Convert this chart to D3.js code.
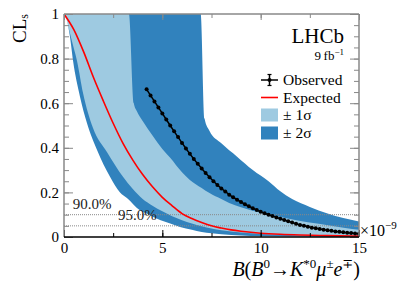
<!DOCTYPE html>
<html><head><meta charset="utf-8">
<script src="https://cdn.jsdelivr.net/npm/d3@7"></script>
<style>
html,body{margin:0;padding:0;background:#fff;}
svg{display:block;}
svg text{font-family:"Liberation Serif","DejaVu Serif",serif;}
</style></head>
<body><svg id="c" width="399" height="286"></svg>
<script>
// ---------- data ----------
const xTickValues = [0, 5, 10, 15];
const xTickLabels = ["0", "5", "10", "15"];
const yTickValues = [0, 0.2, 0.4, 0.6, 0.8, 1];
const yTickLabels = ["0", "0.2", "0.4", "0.6", "0.8", "1"];
const clLevels = [0.10, 0.05];
const clLabels = ["90.0%", "95.0%"];
const clLabelX = [0.45, 2.75];

const obsX = [4.2,4.4,4.6,4.8,5.0,5.2,5.4,5.6,5.8,6.0,6.2,6.4,6.6,6.8,7.0,7.2,7.4,7.6,7.8,8.0,
  8.2,8.4,8.6,8.8,9.0,9.2,9.4,9.6,9.8,10.0,10.2,10.4,10.6,10.8,11.0,11.2,11.4,11.6,11.8,12.0,
  12.2,12.4,12.6,12.8,13.0,13.2,13.4,13.6,13.8,14.0,14.2,14.4,14.6,14.8,15.0];
const obsY = [.662,.635,.608,.581,.554,.527,.500,.474,.448,.422,.397,.373,.350,.328,.307,.287,.268,.250,.233,.218,
  .204,.190,.178,.167,.157,.147,.138,.129,.121,.113,.106,.100,.094,.088,.082,.076,.071,.065,.059,.054,
  .050,.046,.042,.039,.036,.033,.030,.028,.025,.023,.021,.019,.018,.016,.015];

const expX = [0,0.5,1,1.5,2,2.5,3,3.5,4,4.5,5,5.5,6,6.5,7,7.5,8,8.5,9,9.5,10,11,12,13,14,15];
const expY = [1,.93,.83,.715,.61,.51,.42,.345,.28,.225,.178,.14,.105,.083,.065,.05,.04,.032,.026,.021,.017,.012,.009,.007,.005,.004];

// band edges
const up2X = [0,6.95,7.15,7.4,8,8.8,9.6,10.4,11,11.6,12.5,13.4,14.2,15];
const up2Y = [1,1,.53,.475,.42,.36,.30,.25,.205,.17,.135,.105,.085,.07];
const up1X = [0,3.3,3.55,3.7,4.0,4.5,5.0,5.4,6.0,6.4,7.0,7.4,8.0,8.4,9.0,9.5,10.5,11.5,12.4,13.5,14.3,15];
const up1Y = [1,1,.6,.565,.52,.455,.395,.355,.29,.256,.22,.197,.17,.152,.133,.12,.099,.081,.066,.052,.04,.032];
const lo1X = [0,0.2,0.4,0.66,0.97,1.47,2.19,3.0,3.5,4.0,4.5,5.0,5.5,6.0,6.5,7.0,7.5,8,9,10,11,12,13,15];
const lo1Y = [1,.95,.88,.79,.645,.49,.38,.27,.215,.17,.14,.115,.093,.075,.06,.048,.038,.03,.02,.014,.01,.007,.005,.003];
const lo2X = [0,0.15,0.3,0.46,0.81,1.17,1.68,2.34,2.85,3.2,3.86,4.2,4.88,5.4,5.9,6.5,7,8,9,10,12,15];
const lo2Y = [1,.97,.9,.79,.63,.51,.39,.27,.2,.175,.12,.105,.076,.06,.045,.032,.022,.012,.007,.004,.002,.001];

const legendLabels = ["Observed", "Expected", "\u00b1 1\u03c3", "\u00b1 2\u03c3"];

// ---------- layout ----------
const W = 399, H = 286;
const m = {l: 64, r: 40, t: 14, b: 49};
const x = d3.scaleLinear().domain([0, 15]).range([m.l, W - m.r]);
const y = d3.scaleLinear().domain([0, 1]).range([H - m.b, m.t]);
const cDark = "#3182bd", cLight = "#9ecae1";
const svg = d3.select("#c");

svg.append("clipPath").attr("id", "pc").append("rect")
  .attr("x", x(0)).attr("y", y(1)).attr("width", x(15) - x(0)).attr("height", y(0) - y(1));
const g = svg.append("g").attr("clip-path", "url(#pc)");

const zip = (xs, ys) => xs.map((v, i) => [v, ys[i]]);
const area = d3.area().x(d => x(d[0])).y0(y(0)).y1(d => y(d[1])).curve(d3.curveMonotoneX);
g.append("path").attr("d", area(zip(up2X, up2Y))).attr("fill", cDark);
g.append("path").attr("d", area(zip(up1X, up1Y))).attr("fill", cLight);
g.append("path").attr("d", area(zip(lo1X, lo1Y))).attr("fill", cDark);
g.append("path").attr("d", area(zip(lo2X, lo2Y))).attr("fill", "#fff");

// CL lines
clLevels.forEach((lv, i) => {
  g.append("line").attr("x1", x(0)).attr("x2", x(15)).attr("y1", y(lv)).attr("y2", y(lv))
    .attr("stroke", "#888").attr("stroke-width", 1).attr("stroke-dasharray", "1,1");
});

const line = d3.line().x(d => x(d[0])).y(d => y(d[1])).curve(d3.curveMonotoneX);
g.append("path").attr("d", line(zip(expX, expY))).attr("fill", "none")
  .attr("stroke", "#ff0000").attr("stroke-width", 1.6);
const obs = zip(obsX, obsY);
g.append("path").attr("d", d3.line().x(d => x(d[0])).y(d => y(d[1]))(obs)).attr("fill", "none")
  .attr("stroke", "#000").attr("stroke-width", 1.5);
g.selectAll("circle.o").data(obs).join("circle").attr("class", "o")
  .attr("cx", d => x(d[0])).attr("cy", d => y(d[1])).attr("r", 2).attr("fill", "#000");

clLabels.forEach((t, i) => {
  svg.append("text").attr("x", x(clLabelX[i])).attr("y", y(clLevels[i]) - 6)
    .attr("font-size", 15).attr("fill", "#222").text(t);
});

// ---------- axes ----------
const axCol = "#888";
function styleAx(sel, col) {
  sel.attr("font-family", null);
  sel.select(".domain").remove();
  sel.selectAll("line").attr("stroke", col);
  sel.selectAll("text").attr("font-size", 15).attr("fill", "#000");
}
const xMinor = d3.range(0, 15.01, 2.5);
const yMinor = d3.range(0, 1.001, 0.05);
// bottom
svg.append("g").attr("transform", `translate(0,${y(0)})`)
  .call(d3.axisBottom(x).tickValues(xMinor).tickSize(-4).tickFormat(""))
  .call(s => styleAx(s, "#000"));
svg.append("g").attr("transform", `translate(0,${y(0)})`)
  .call(d3.axisBottom(x).tickValues(xTickValues).tickSize(-7).tickPadding(5)
    .tickFormat((d, i) => xTickLabels[i]))
  .call(s => styleAx(s, "#000"));
// top
svg.append("g").attr("transform", `translate(0,${y(1)})`)
  .call(d3.axisTop(x).tickValues(xMinor).tickSize(-4).tickFormat(""))
  .call(s => styleAx(s, axCol));
svg.append("g").attr("transform", `translate(0,${y(1)})`)
  .call(d3.axisTop(x).tickValues(xTickValues).tickSize(-6).tickFormat(""))
  .call(s => styleAx(s, axCol));
// left
svg.append("g").attr("transform", `translate(${x(0)},0)`)
  .call(d3.axisLeft(y).tickValues(yMinor).tickSize(-5).tickFormat(""))
  .call(s => styleAx(s, axCol));
svg.append("g").attr("transform", `translate(${x(0)},0)`)
  .call(d3.axisLeft(y).tickValues(yTickValues).tickSize(-9).tickPadding(5)
    .tickFormat((d, i) => yTickLabels[i]))
  .call(s => styleAx(s, axCol));
// right
svg.append("g").attr("transform", `translate(${x(15)},0)`)
  .call(d3.axisRight(y).tickValues(yMinor).tickSize(-5).tickFormat(""))
  .call(s => styleAx(s, axCol));
svg.append("g").attr("transform", `translate(${x(15)},0)`)
  .call(d3.axisRight(y).tickValues(yTickValues).tickSize(-9).tickFormat(""))
  .call(s => styleAx(s, axCol));
// frame
const fr = svg.append("g").attr("fill", "none").attr("stroke-width", 1.5);
fr.append("line").attr("x1", x(0)).attr("x2", x(0)).attr("y1", y(0)).attr("y2", y(1)).attr("stroke", axCol);
fr.append("line").attr("x1", x(15)).attr("x2", x(15)).attr("y1", y(0)).attr("y2", y(1)).attr("stroke", axCol);
fr.append("line").attr("x1", x(0)).attr("x2", x(15)).attr("y1", y(1)).attr("y2", y(1)).attr("stroke", axCol);
fr.append("line").attr("x1", x(0)).attr("x2", x(15)).attr("y1", y(0)).attr("y2", y(0)).attr("stroke", "#000");

// ×10^-9
const ex = svg.append("text").attr("x", x(15) + 1).attr("y", y(0) - 1).attr("font-size", 16);
ex.append("tspan").text("\u00d710");
ex.append("tspan").attr("font-size", 11).attr("dy", -7).text("\u22129");

// x title
const xt = svg.append("text").attr("x", x(15) + 1).attr("y", 276).attr("font-size", 20).attr("text-anchor", "end");
function sup(t, txt) { t.append("tspan").attr("font-size", 13).attr("dy", -8).text(txt); }
function base(t, txt, it) { const s = t.append("tspan").attr("dy", 8).text(txt); if (it) s.attr("font-style", "italic"); }
xt.append("tspan").attr("font-style", "italic").text("B");
xt.append("tspan").text("(");
xt.append("tspan").attr("font-style", "italic").text("B");
sup(xt, "0");
base(xt, "\u2192", false);
xt.append("tspan").attr("font-style", "italic").text("K");
sup(xt, "*0");
base(xt, "\u03bc", true);
sup(xt, "\u00b1");
base(xt, "e", true);
sup(xt, "\u2213");
base(xt, ")", false);

// y title
const yt = svg.append("text").attr("transform", `translate(26,${y(1)}) rotate(-90)`)
  .attr("text-anchor", "end").attr("font-size", 19);
yt.append("tspan").text("CL");
yt.append("tspan").attr("font-size", 12).attr("dy", 2).text("s");

// LHCb
svg.append("text").attr("x", 344).attr("y", 43).attr("text-anchor", "end").attr("font-size", 21).text("LHCb");
const lum = svg.append("text").attr("x", 344).attr("y", 60).attr("text-anchor", "end").attr("font-size", 13);
lum.append("tspan").text("9\u2009fb");
lum.append("tspan").attr("font-size", 9).attr("dy", -5).text("\u22121");

// legend
const lx = 261, lw = 17, ly = [80, 97.5, 115, 133], tx = 283;
const lg = svg.append("g");
lg.append("line").attr("x1", lx).attr("x2", lx + lw).attr("y1", ly[0]).attr("y2", ly[0]).attr("stroke", "#000").attr("stroke-width", 1.5);
lg.append("line").attr("x1", lx + lw / 2).attr("x2", lx + lw / 2).attr("y1", ly[0] - 5.5).attr("y2", ly[0] + 5.5).attr("stroke", "#000").attr("stroke-width", 1.5);
lg.append("line").attr("x1", lx + lw / 2 - 2).attr("x2", lx + lw / 2 + 2).attr("y1", ly[0] - 5.5).attr("y2", ly[0] - 5.5).attr("stroke", "#000").attr("stroke-width", 1.2);
lg.append("line").attr("x1", lx + lw / 2 - 2).attr("x2", lx + lw / 2 + 2).attr("y1", ly[0] + 5.5).attr("y2", ly[0] + 5.5).attr("stroke", "#000").attr("stroke-width", 1.2);
lg.append("circle").attr("cx", lx + lw / 2).attr("cy", ly[0]).attr("r", 2).attr("fill", "#000");
lg.append("line").attr("x1", lx).attr("x2", lx + lw).attr("y1", ly[1]).attr("y2", ly[1]).attr("stroke", "#ff0000").attr("stroke-width", 1.6);
lg.append("rect").attr("x", lx).attr("y", ly[2] - 6.5).attr("width", lw).attr("height", 13).attr("fill", cLight);
lg.append("rect").attr("x", lx).attr("y", ly[3] - 6.5).attr("width", lw).attr("height", 13).attr("fill", cDark);
legendLabels.forEach((t, i) => {
  lg.append("text").attr("x", tx).attr("y", ly[i] + 5).attr("font-size", 15.5).text(t);
});
</script></body></html>
